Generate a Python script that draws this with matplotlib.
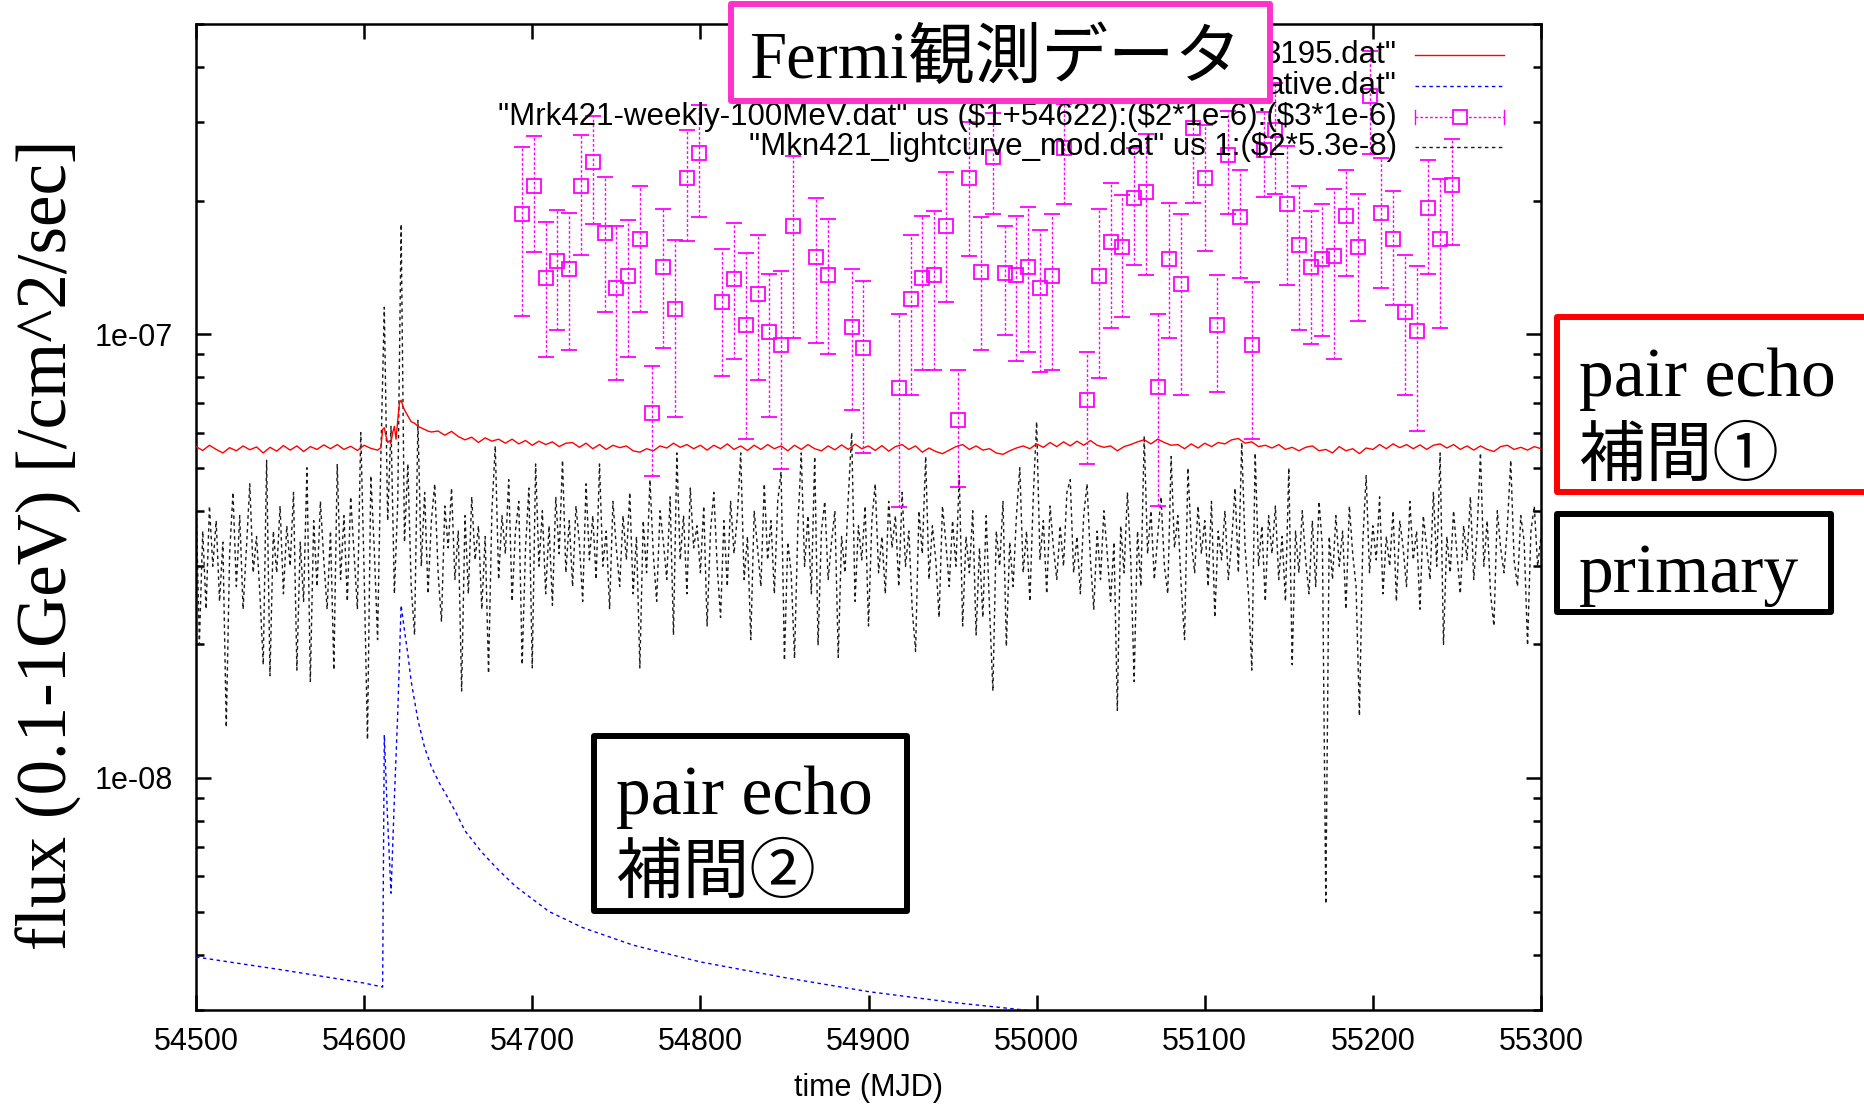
import numpy as np
import matplotlib
matplotlib.use("Agg")
import matplotlib.pyplot as plt
from matplotlib.lines import Line2D
from matplotlib.patches import Rectangle
from matplotlib.ticker import FixedLocator, FixedFormatter, LogLocator, NullFormatter

plt.rcParams['font.family'] = ['Liberation Sans', 'DejaVu Sans']
SERIF = ['Liberation Serif', 'Noto Sans CJK JP', 'DejaVu Serif']

# --- pair echo (interpolation 1), units of 1e-8 ---
red_mjd = np.concatenate([
    np.arange(54500, 54609, 4),
    [54610, 54611, 54612, 54613, 54614, 54615, 54616, 54617, 54618, 54619,
     54620, 54621, 54622, 54623, 54624, 54626, 54628, 54630, 54632, 54634,
     54636, 54638, 54640],
    np.arange(54644, 55301, 4),
])
red_flux = np.array([
    5.58, 5.47, 5.62, 5.50, 5.40, 5.55, 5.46, 5.60, 5.49, 5.57,
    5.40, 5.56, 5.45, 5.61, 5.48, 5.60, 5.44, 5.58, 5.50, 5.63,
    5.52, 5.64, 5.50, 5.59, 5.47, 5.62, 5.53, 5.48,
    5.55, 6.10, 6.15, 5.90, 5.70, 5.75, 5.70, 6.00, 6.20, 5.80,
    6.40, 7.00, 7.10, 6.90, 6.75, 6.55, 6.35, 6.30, 6.20, 6.15,
    6.10, 6.05, 6.02,
    6.05, 5.92, 6.04, 5.88, 5.78, 5.86, 5.70, 5.84, 5.74, 5.80,
    5.68, 5.80, 5.66, 5.76, 5.62, 5.74, 5.64, 5.72, 5.58, 5.68,
    5.70, 5.56, 5.68, 5.52, 5.64, 5.50, 5.62, 5.55, 5.60, 5.46,
    5.42, 5.52, 5.46, 5.60, 5.54, 5.68, 5.56, 5.64, 5.52, 5.62,
    5.48, 5.62, 5.52, 5.66, 5.50, 5.60, 5.47, 5.62, 5.50, 5.64,
    5.52, 5.60, 5.46, 5.62, 5.50, 5.64, 5.52, 5.46, 5.60, 5.49,
    5.63, 5.50, 5.65, 5.52, 5.60, 5.47, 5.61, 5.45, 5.58, 5.64,
    5.50, 5.60, 5.42, 5.54, 5.44, 5.38, 5.48, 5.58, 5.64, 5.50,
    5.60, 5.48, 5.52, 5.40, 5.36, 5.46, 5.54, 5.60, 5.52, 5.66,
    5.56, 5.70, 5.58, 5.72, 5.60, 5.74, 5.62, 5.76, 5.62, 5.56,
    5.60, 5.46, 5.58, 5.64, 5.72, 5.78, 5.66, 5.80, 5.70, 5.62,
    5.64, 5.52, 5.66, 5.54, 5.68, 5.58, 5.70, 5.66, 5.78, 5.82,
    5.68, 5.72, 5.58, 5.62, 5.54, 5.64, 5.50, 5.56, 5.46, 5.56,
    5.60, 5.46, 5.50, 5.40, 5.58, 5.46, 5.52, 5.38, 5.54, 5.50,
    5.64, 5.52, 5.66, 5.55, 5.64, 5.52, 5.63, 5.50, 5.62, 5.66,
    5.54, 5.64, 5.50, 5.60, 5.48, 5.60, 5.50, 5.44, 5.58, 5.62,
    5.50, 5.56, 5.48, 5.58, 5.52,
])

# --- pair echo (interpolation 2), units of 1e-9 ---
blue_mjd = np.array([54500, 54550, 54600, 54611, 54612, 54614, 54616, 54618, 54620, 54622,
                     54624, 54626, 54628, 54632, 54636, 54640, 54645, 54650, 54655, 54660,
                     54670, 54680, 54690, 54710, 54730, 54760, 54800, 54850, 54900, 54950,
                     55000, 55050, 55100, 55200, 55300])
blue_flux = np.array([3.95, 3.70, 3.45, 3.38, 12.5, 8.0, 5.5, 9.0, 14.0, 24.5,
                      21.5, 19.0, 16.5, 13.5, 11.7, 10.6, 9.7, 9.0, 8.3, 7.6,
                      6.8, 6.2, 5.7, 5.0, 4.6, 4.2, 3.85, 3.55, 3.30, 3.12,
                      2.98, 2.85, 2.75, 2.55, 2.40])

# --- Fermi weekly fluxes, units of 1e-7 ---
fermi_mjd = np.array([
    54694, 54701, 54708, 54715, 54722, 54729, 54736, 54743, 54750, 54757,
    54764, 54771, 54778, 54785, 54792, 54799, 54813, 54820, 54827, 54834,
    54841, 54848, 54855, 54869, 54876, 54890, 54897, 54918, 54925, 54932,
    54939, 54946, 54953, 54960, 54967, 54974, 54981, 54988, 54995, 55002,
    55009, 55016, 55030, 55037, 55044, 55051, 55058, 55065, 55072, 55079,
    55086, 55093, 55100, 55107, 55114, 55121, 55128, 55135, 55142, 55149,
    55156, 55163, 55170, 55177, 55184, 55191, 55198, 55205, 55212, 55219,
    55226, 55233, 55240, 55247])
fermi_flux = np.array([
    1.87, 2.16, 1.34, 1.46, 1.40, 2.16, 2.44, 1.69, 1.27, 1.35,
    1.64, 0.665, 1.42, 1.14, 2.25, 2.56, 1.18, 1.33, 1.05, 1.23,
    1.01, 0.943, 1.75, 1.49, 1.36, 1.04, 0.93, 0.758, 1.20, 1.34,
    1.36, 1.75, 0.642, 2.25, 1.38, 2.51, 1.375, 1.36, 1.42, 1.27,
    1.35, 2.63, 0.71, 1.355, 1.61, 1.575, 2.03, 2.09, 0.76, 1.48,
    1.30, 2.92, 2.25, 1.05, 2.53, 1.84, 0.945, 2.60, 2.88, 1.97,
    1.59, 1.42, 1.48, 1.50, 1.85, 1.57, 3.45, 1.88, 1.635, 1.12,
    1.015, 1.92, 1.635, 2.17])
fermi_err = np.array([
    0.77, 0.63, 0.45, 0.44, 0.48, 0.65, 0.67, 0.57, 0.48, 0.46,
    0.52, 0.185, 0.49, 0.49, 0.63, 0.72, 0.375, 0.45, 0.47, 0.44,
    0.36, 0.445, 0.77, 0.535, 0.46, 0.365, 0.39, 0.35, 0.47, 0.51,
    0.53, 0.57, 0.19, 0.75, 0.46, 0.64, 0.38, 0.49, 0.51, 0.45,
    0.52, 0.67, 0.20, 0.56, 0.58, 0.48, 0.60, 0.73, 0.35, 0.50,
    0.57, 0.94, 0.71, 0.31, 0.66, 0.50, 0.365, 0.56, 0.81, 0.68,
    0.57, 0.47, 0.49, 0.62, 0.50, 0.50, 0.90, 0.61, 0.47, 0.39,
    0.41, 0.55, 0.60, 0.58])

# --- primary light curve (every 2 days), units of 1e-8 ---
prim_mjd = np.arange(54500, 55301, 2)
prim_flux = np.array([
    4.3, 2.0, 3.6, 2.4, 4.1, 3.0, 3.8, 2.5, 3.4, 1.3, 3.2, 4.4, 2.7, 3.9, 2.4, 3.3, 4.6, 2.9, 3.5, 2.6,
    1.8, 5.2, 1.7, 3.6, 2.9, 4.1, 2.6, 3.7, 3.0, 4.4, 1.75, 3.4, 2.5, 5.0, 1.65, 3.8, 2.7, 4.2, 3.1, 2.4,
    3.6, 1.75, 5.1, 2.8, 3.9, 2.5, 4.3, 3.2, 2.4, 6.0, 2.9, 1.22, 4.8, 3.3, 2.05, 5.4, 11.5, 3.8, 6.2, 2.6,
    4.2, 17.7, 3.4, 5.1, 2.7, 2.1, 6.4, 3.0, 4.4, 2.6, 3.8, 4.6, 2.9, 2.25, 4.1, 3.3, 4.5, 2.8, 3.6, 1.57,
    3.9, 2.6, 4.3, 3.1, 3.7, 2.4, 3.5, 1.72, 4.0, 5.6, 2.8, 3.9, 3.2, 4.7, 2.5, 3.6, 4.2, 1.8, 3.3, 4.5,
    1.77, 5.1, 3.0, 4.0, 2.6, 3.7, 2.45, 4.3, 3.2, 5.2, 2.9, 3.8, 2.7, 4.1, 3.4, 2.5, 4.6, 3.1, 3.9, 2.8,
    5.1, 3.0, 3.6, 2.4, 4.2, 3.3, 2.7, 3.9, 3.1, 4.4, 2.6, 3.5, 1.77, 3.8, 2.9, 4.7, 3.2, 2.5, 4.0, 3.4,
    2.8, 4.3, 2.1, 5.4, 3.1, 3.9, 2.6, 4.5, 3.3, 3.7, 2.9, 4.1, 2.2, 3.6, 4.4, 3.0, 2.3, 3.8, 2.7, 4.2,
    3.2, 3.9, 5.4, 2.8, 3.5, 2.05, 4.0, 3.3, 2.7, 4.6, 3.1, 3.8, 2.6, 4.2, 4.9, 1.84, 3.4, 2.9, 1.86, 3.7,
    5.4, 3.0, 3.9, 2.6, 5.3, 1.99, 3.6, 4.2, 2.8, 3.4, 4.0, 1.87, 3.5, 2.9, 4.3, 6.0, 2.5, 3.7, 3.1, 4.1,
    2.2, 3.8, 4.6, 2.9, 3.5, 2.6, 4.2, 3.3, 3.9, 2.7, 4.4, 3.0, 3.6, 2.4, 1.93, 4.0, 3.2, 5.3, 2.8, 3.7,
    3.1, 2.3, 4.1, 3.4, 2.7, 3.8, 3.0, 4.8, 2.2, 3.5, 2.9, 4.0, 2.1, 3.3, 2.3, 3.9, 2.4, 1.57, 3.6, 3.0,
    4.2, 1.98, 3.4, 2.7, 3.9, 5.0, 2.9, 3.6, 2.5, 4.3, 6.35, 3.1, 3.8, 2.6, 4.1, 3.3, 2.8, 3.7, 3.0, 4.4,
    4.7, 2.9, 3.5, 2.6, 3.9, 4.6, 3.1, 2.4, 3.6, 2.8, 4.0, 3.2, 2.5, 3.4, 1.42, 3.7, 2.9, 4.4, 3.1, 1.65,
    3.6, 2.7, 5.9, 3.2, 4.0, 2.8, 3.5, 4.3, 3.0, 2.6, 5.3, 3.3, 3.9, 2.7, 2.05, 5.0, 3.4, 2.9, 4.1, 3.2,
    3.8, 2.7, 4.2, 2.3, 3.6, 3.1, 4.0, 2.8, 3.4, 4.5, 2.9, 5.7, 3.3, 2.6, 1.75, 5.4, 3.0, 3.7, 2.5, 3.9,
    3.2, 4.1, 2.8, 3.5, 2.5, 5.0, 1.8, 3.6, 2.9, 4.0, 3.1, 2.6, 3.8, 2.7, 4.2, 3.3, 0.52, 3.5, 2.8, 3.9,
    3.0, 3.6, 2.4, 4.1, 3.2, 2.7, 1.38, 3.4, 4.8, 2.9, 3.7, 3.1, 4.3, 2.6, 3.5, 3.0, 4.0, 2.5, 3.8, 3.3,
    2.7, 4.2, 3.1, 3.6, 2.4, 3.9, 3.3, 2.8, 4.4, 3.0, 5.4, 2.0, 3.5, 2.9, 4.0, 3.2, 2.6, 3.7, 3.1, 4.3,
    2.8, 3.6, 5.4, 3.0, 3.8, 2.6, 2.2, 4.0, 3.3, 2.9, 3.7, 5.2, 3.1, 2.7, 3.9, 3.4, 1.99, 3.6, 4.1, 3.0,
    3.5,
])

legend_labels = [
    '3195.dat"',
    'ative.dat"',
    '"Mrk421-weekly-100MeV.dat" us ($1+54622):($2*1e-6):($3*1e-6)',
    '"Mkn421_lightcurve_mod.dat" us 1:($2*5.3e-8)',
]

W, H = 1864, 1106
fig = plt.figure(figsize=(W / 100, H / 100), dpi=100)


def fx(px):
    return px / W


def fy(py):
    return 1 - py / H


ax = fig.add_axes([fx(196), fy(1010), fx(1541) - fx(196), fy(24) - fy(1010)])

RED, BLUE, MAG = '#ff0000', '#0000ff', '#ff00ff'

ax.plot(red_mjd, red_flux * 1e-8, color=RED, lw=1.0, zorder=3)
ax.plot(blue_mjd, blue_flux * 1e-9, color=BLUE, lw=1.0, dashes=(2.5, 2.5), zorder=3)
eb = ax.errorbar(fermi_mjd, fermi_flux * 1e-7, yerr=fermi_err * 1e-7, fmt='s',
                 mfc='none', mec=MAG, mew=1.3, ms=10, ecolor=MAG, elinewidth=1.0,
                 capsize=5.5, capthick=1.0, zorder=4)
eb[2][0].set_linestyle((0, (2, 1.5)))
ax.plot(prim_mjd, prim_flux * 1e-8, color='#1a1a1a', lw=1.0, dashes=(2.5, 2.5), zorder=2)

ax.set_yscale('log')
ax.set_xlim(54500, 55300)
ax.set_ylim(3e-9, 5e-7)
ax.set_xticks(np.arange(54500, 55301, 100))
ax.yaxis.set_major_locator(FixedLocator([1e-8, 1e-7]))
ax.yaxis.set_major_formatter(FixedFormatter(['1e-08', '1e-07']))
ax.yaxis.set_minor_locator(LogLocator(base=10, subs=np.arange(2, 10), numticks=20))
ax.yaxis.set_minor_formatter(NullFormatter())
ax.tick_params(which='both', direction='in', top=True, right=True, width=1.8)
ax.tick_params(which='major', length=11, labelsize=22)
ax.tick_params(axis='x', pad=12)
ax.tick_params(axis='y', pad=17)
ax.tick_params(which='minor', length=6)
for s in ax.spines.values():
    s.set_linewidth(1.8)
ax.set_xlabel('time (MJD)', fontsize=22, labelpad=12)

fig.text(fx(49), fy(545), 'flux (0.1-1GeV) [/cm^2/sec]', rotation=90,
         ha='center', va='center', fontsize=51, family=SERIF)

# key, gnuplot style: text right-aligned, sample to the right
rows = [55, 85.6, 116.7, 147.3]
for lab, y in zip(legend_labels, rows):
    fig.text(fx(1397), fy(y), lab, ha='right', va='center', fontsize=22.5,
             parse_math=False, zorder=5)
x0, x1 = fx(1415), fx(1504)
fig.add_artist(Line2D([x0, x1], [fy(rows[0])] * 2, color=RED, lw=1.0,
                      transform=fig.transFigure, zorder=5))
fig.add_artist(Line2D([x0, x1], [fy(rows[1])] * 2, color=BLUE, lw=1.0,
                      dashes=(2.5, 2.5), transform=fig.transFigure, zorder=5))
fig.add_artist(Line2D([x0, x1], [fy(rows[2])] * 2, color=MAG, lw=1.0,
                      dashes=(2, 1.5), transform=fig.transFigure, zorder=5))
for xe in (x0, x1):
    fig.add_artist(Line2D([xe, xe], [fy(rows[2] - 7), fy(rows[2] + 7)], color=MAG,
                          lw=1.0, transform=fig.transFigure, zorder=5))
fig.add_artist(Line2D([fx(1460)], [fy(rows[2])], marker='s', ms=10, mfc='white',
                      mec=MAG, mew=1.3, transform=fig.transFigure, zorder=6))
fig.add_artist(Line2D([x0, x1], [fy(rows[3])] * 2, color='#1a1a1a', lw=1.0,
                      dashes=(2.5, 2.5), transform=fig.transFigure, zorder=5))


def label_box(left, top, right, bottom, color):
    r = Rectangle((fx(left), fy(bottom)), fx(right) - fx(left), fy(top) - fy(bottom),
                  transform=fig.transFigure, facecolor='white', edgecolor=color,
                  lw=4.3, joinstyle='round', zorder=10)
    fig.add_artist(r)


def box_text(x, y, s, size=48):
    fig.text(fx(x), fy(y), s, ha='left', va='center', fontsize=size, family=SERIF, zorder=11)


label_box(731, 4, 1270, 101, '#ff33cc')
box_text(749, 61, 'Fermi観測データ')

label_box(1557, 317, 1890, 492, RED)
box_text(1579, 379, 'pair echo', 50)
box_text(1579, 459, '補間①')

label_box(1557, 514, 1831, 612, 'black')
box_text(1579, 575, 'primary', 50)

label_box(594, 736, 907, 911, 'black')
box_text(616, 797, 'pair echo', 50)
box_text(616, 876, '補間②')

fig.savefig('out.png', dpi=100)
